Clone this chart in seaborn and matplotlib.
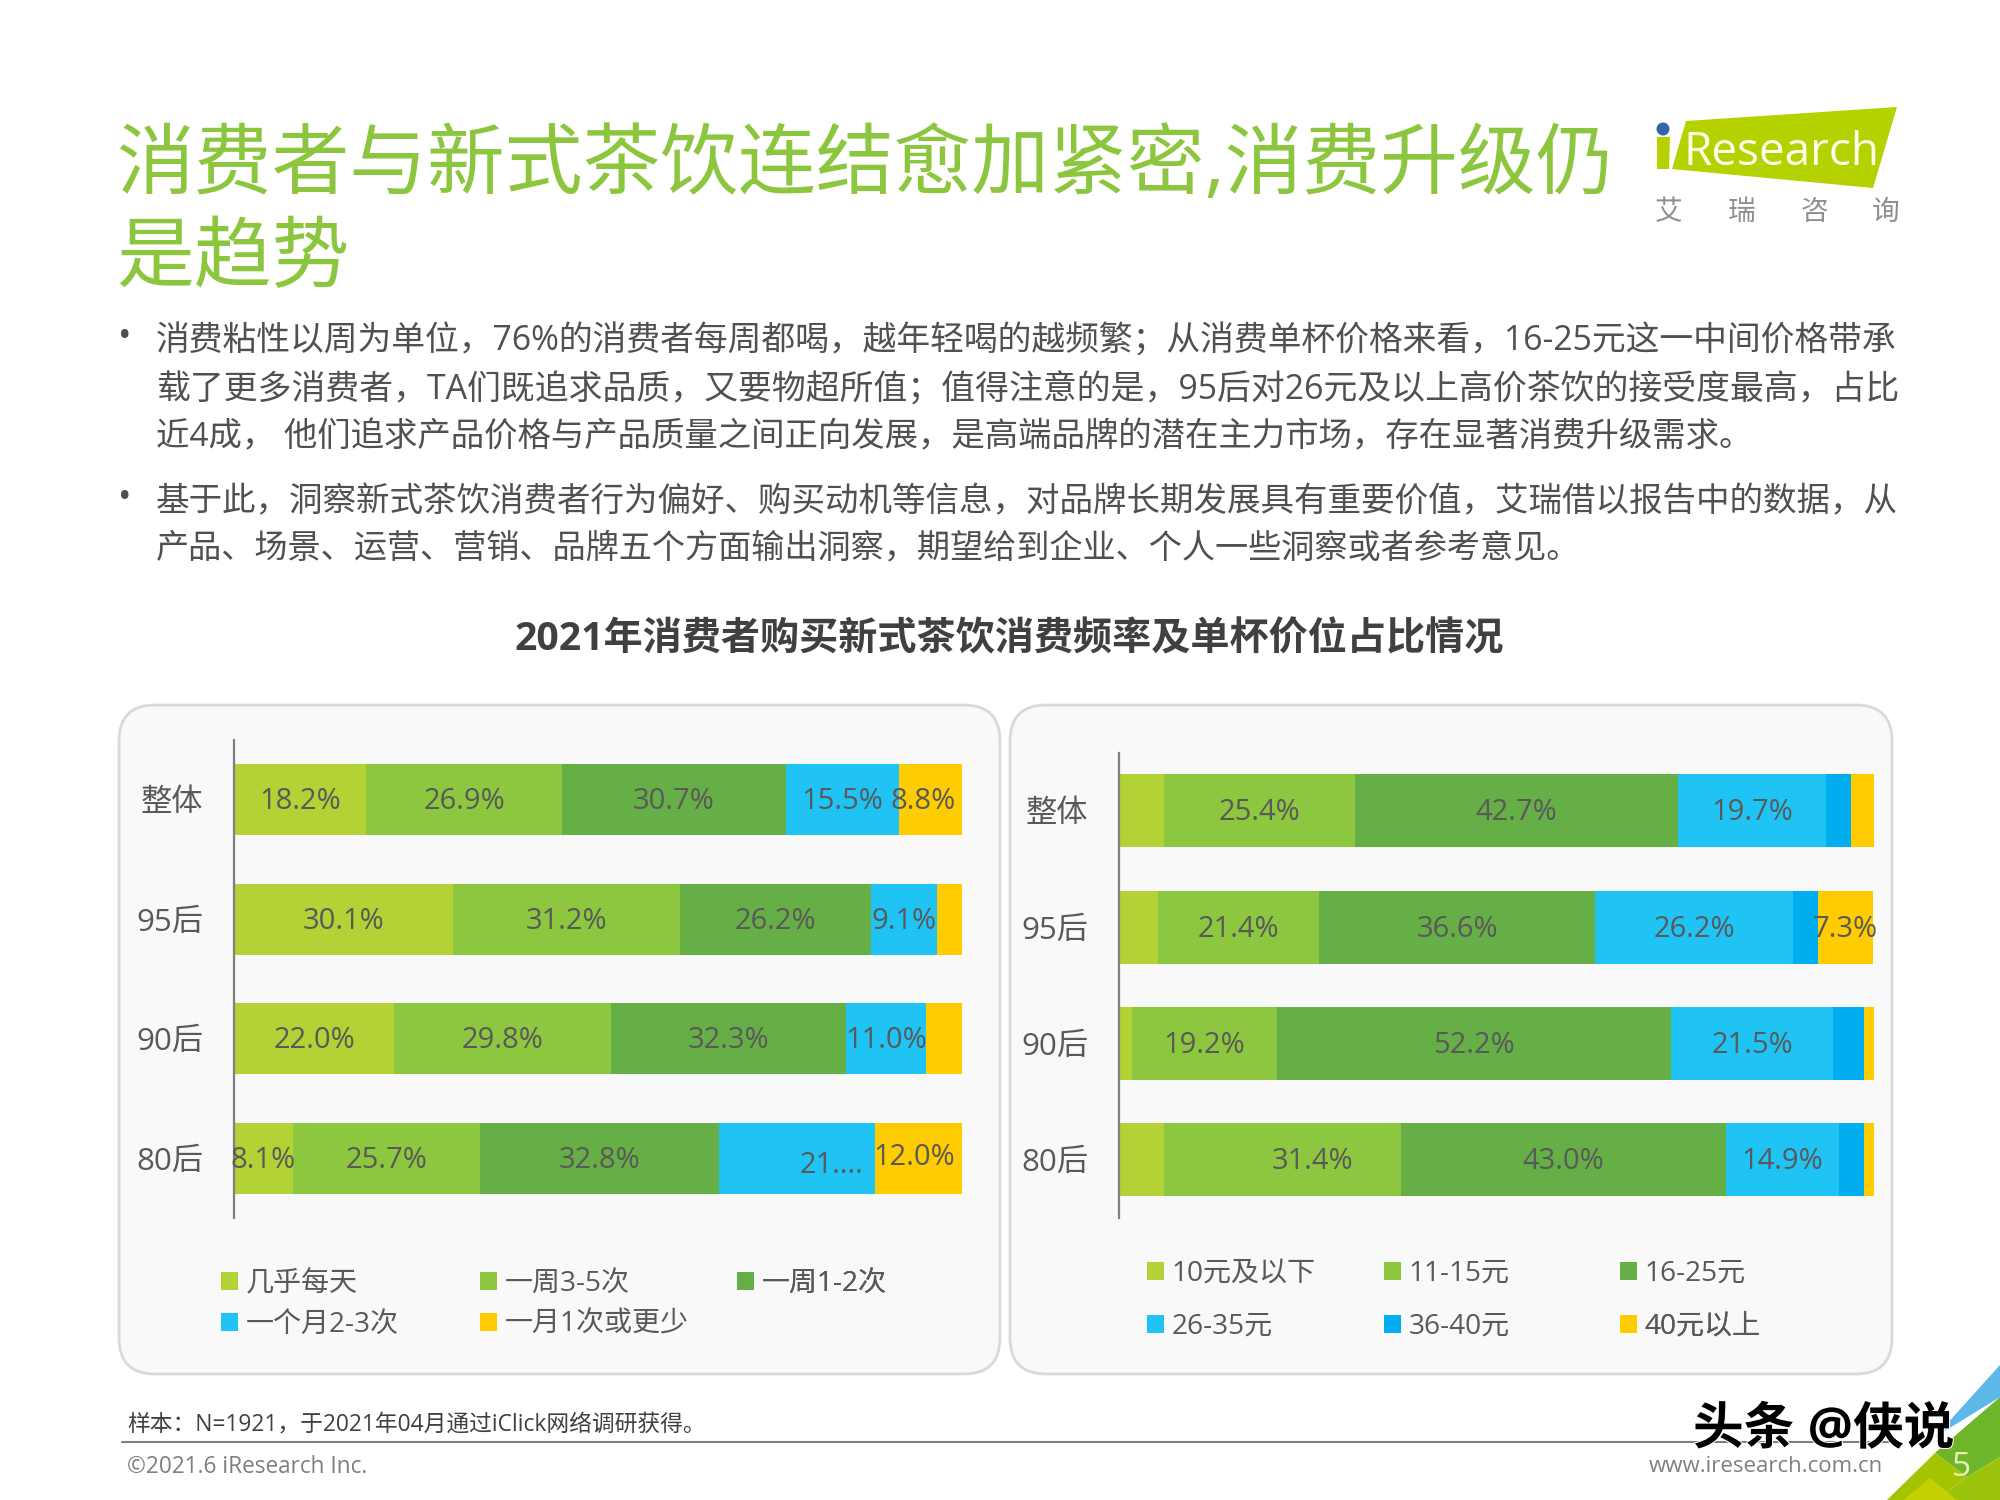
import matplotlib
matplotlib.use("Agg")
import matplotlib.pyplot as plt
import matplotlib.patheffects as pe
from matplotlib.patches import FancyBboxPatch, Polygon, Circle, Patch
import pandas as pd
import seaborn as sns

sns.set_theme(style="white")
FONT = ['Open Sans', 'Noto Sans CJK SC', 'DejaVu Sans']
plt.rcParams['font.family'] = FONT

FULL = str.maketrans({",": "\uff0c", ";": "\uff1b", ":": "\uff1a"})

TITLE_LINES = ["消费者与新式茶饮连结愈加紧密,消费升级仍", "是趋势"]
BODY_LINES = [
    "消费粘性以周为单位,76%的消费者每周都喝,越年轻喝的越频繁;从消费单杯价格来看,16-25元这一中间价格带承",
    "载了更多消费者,TA们既追求品质,又要物超所值;值得注意的是,95后对26元及以上高价茶饮的接受度最高,占比",
    "近4成, 他们追求产品价格与产品质量之间正向发展,是高端品牌的潜在主力市场,存在显著消费升级需求。",
    "基于此,洞察新式茶饮消费者行为偏好、购买动机等信息,对品牌长期发展具有重要价值,艾瑞借以报告中的数据,从",
    "产品、场景、运营、营销、品牌五个方面输出洞察,期望给到企业、个人一些洞察或者参考意见。",
]
CHART_TITLE = "2021年消费者购买新式茶饮消费频率及单杯价位占比情况"
FOOTNOTE = "样本:N=1921,于2021年04月通过iClick网络调研获得。"

groups = ["整体", "95后", "90后", "80后"]

freq_names = ["几乎每天", "一周3-5次", "一周1-2次", "一个月2-3次", "一月1次或更少"]
freq_daily = [18.2, 30.1, 22.0, 8.1]
freq_3_5 = [26.9, 31.2, 29.8, 25.7]
freq_1_2 = [30.7, 26.2, 32.3, 32.8]
freq_month = [15.5, 9.1, 11.0, 21.4]
freq_less = [8.8, 3.4, 4.9, 12.0]
freq_labels = [
    ["18.2%", "30.1%", "22.0%", "8.1%"],
    ["26.9%", "31.2%", "29.8%", "25.7%"],
    ["30.7%", "26.2%", "32.3%", "32.8%"],
    ["15.5%", "9.1%", "11.0%", "21...."],
    ["8.8%", "", "", "12.0%"],
]

price_names = ["10元及以下", "11-15元", "16-25元", "26-35元", "36-40元", "40元以上"]
price_10 = [5.9, 5.1, 1.7, 6.0]
price_15 = [25.4, 21.4, 19.2, 31.4]
price_25 = [42.7, 36.6, 52.2, 43.0]
price_35 = [19.7, 26.2, 21.5, 14.9]
price_40 = [3.3, 3.3, 4.1, 3.4]
price_up = [3.1, 7.3, 1.3, 1.3]
price_labels = [
    ["", "", "", ""],
    ["25.4%", "21.4%", "19.2%", "31.4%"],
    ["42.7%", "36.6%", "52.2%", "43.0%"],
    ["19.7%", "26.2%", "21.5%", "14.9%"],
    ["", "", "", ""],
    ["", "7.3%", "", ""],
]

LIME, GREEN, DGREEN, BLUE, DBLUE, YELLOW = "#B2D235", "#8DC63F", "#66AF46", "#1FC4F4", "#00ADEF", "#FFCC00"
GRAY = "#595959"
W, H = 2000, 1500

fig = plt.figure(figsize=(20, 15), dpi=100, facecolor="white")
bg = fig.add_axes([0, 0, 1, 1], zorder=0)
bg.set_xlim(0, W)
bg.set_ylim(H, 0)
bg.axis("off")

# slide texts
for t, y in zip(TITLE_LINES, [168, 260]):
    bg.text(116, y, t, fontsize=56, color="#8CC63F", va="center", ha="left", family=FONT)
for t, y, fs in zip(BODY_LINES, [342, 390, 438, 502, 550], [24.33, 24.37, 24.05, 24.14, 23.9]):
    bg.text(156, y, t.translate(FULL), fontsize=fs, color="#505050", va="center", ha="left", family=FONT)
for y in [338, 499]:
    bg.text(125, y, "•", fontsize=26, color="#505050", va="center", ha="center", family=FONT)
bg.text(1009, 640, CHART_TITLE, fontsize=28.2, fontweight="bold", color="#404040",
        va="center", ha="center", family=FONT)

# panels
for x0, x1 in [(119, 1000), (1010, 1892)]:
    bg.add_patch(FancyBboxPatch((x0 + 36, 705 + 36), x1 - x0 - 72, 669 - 72,
                                boxstyle="round,pad=36,rounding_size=36",
                                fc="#F9F9F9", ec="#D9D9D9", lw=2))

# logo
bg.add_patch(Polygon([(1686, 121), (1897, 107), (1873, 188), (1672, 169)], closed=True, fc="#B5D100", ec="none"))
bg.add_patch(Polygon([(1657, 137), (1670, 137), (1669, 169), (1657, 169)], closed=True, fc="#B5D100", ec="none"))
bg.add_patch(Circle((1663, 129), 6.5, fc="#3565A8", ec="none"))
bg.text(1684, 153, "Research", fontsize=33, color="#FCFDE8", va="center", ha="left", family=FONT)
for c, x in zip("艾瑞咨询", [1669, 1742, 1814, 1886]):
    bg.text(x, 213, c, fontsize=20, color="#8F8F8F", va="center", ha="center", family=FONT)

# corner decoration
bg.add_patch(Polygon([(2000, 1365), (1935, 1437), (2000, 1397)], closed=True, fc="#5BB8E8", ec="none"))
bg.add_patch(Polygon([(2000, 1397), (1935, 1453), (1967, 1477), (2000, 1457)], closed=True, fc="#6EB52A", ec="none"))
bg.add_patch(Polygon([(1887, 1500), (1935, 1453), (1967, 1477), (1935, 1500)], closed=True, fc="#A3C400", ec="none"))
bg.add_patch(Polygon([(1967, 1477), (2000, 1457), (2000, 1500), (1935, 1500)], closed=True, fc="#9CC40A", ec="none"))
bg.add_patch(Polygon([(1903, 1500), (1930, 1478), (1957, 1500)], closed=True, fc="#C4D000", ec="none"))

# footer
bg.plot([122, 1890], [1442, 1442], color="#7F7F7F", lw=1.5)
bg.text(127, 1425, FOOTNOTE.translate(FULL), fontsize=16.4, color="#404040", va="center", ha="left", family=FONT)
bg.text(127, 1467, "©2021.6 iResearch Inc.", fontsize=16.3, color="#7F7F7F", va="center", ha="left", family=FONT)
bg.text(1883, 1467, "www.iresearch.com.cn", fontsize=16, color="#7F7F7F", va="center", ha="right", family=FONT)
bg.text(1961, 1468, "5", fontsize=24, color="#E6F2B0", va="center", ha="center", family=FONT)
bg.text(1693, 1431, "头条 @侠说", fontsize=36.5, fontweight="bold", color="black", va="center", ha="left",
        family=FONT, zorder=10, path_effects=[pe.withStroke(linewidth=1.5, foreground="white")])


def axes_px(x0, x1, y0, y1):
    return fig.add_axes([x0 / W, 1 - y1 / H, (x1 - x0) / W, (y1 - y0) / H], zorder=2, facecolor="none")


def stacked(ax, series, names, colors, labels, width, offsets):
    df = pd.DataFrame(dict(zip(names, series)))
    cum = df.cumsum(axis=1)
    cum["group"] = groups
    for name, c in reversed(list(zip(names, colors))):
        sns.barplot(data=cum, y="group", x=name, order=groups, color=c, saturation=1,
                    width=width, linewidth=0, ax=ax, legend=False)
    ax.set_xlim(0, 100)
    ax.set_ylim(3.5, -0.5)
    ax.set_xlabel("")
    ax.set_ylabel("")
    ax.set_xticks([])
    for s in ["top", "right", "bottom"]:
        ax.spines[s].set_visible(False)
    ax.spines["left"].set_color("#7F7F7F")
    ax.spines["left"].set_linewidth(1.6)
    ax.tick_params(axis="y", length=0, pad=22)
    for t in ax.get_yticklabels():
        t.set_fontsize(22.5)
        t.set_color(GRAY)
        t.set_family(FONT)
    for j, name in enumerate(names):
        for i in range(len(groups)):
            if not labels[j][i]:
                continue
            start = cum[names[j - 1]].iloc[i] if j else 0
            dx, dy = offsets.get((j, i), (0, 0))
            ax.annotate(labels[j][i], (start + df[name].iloc[i] / 2, i), xytext=(dx, -dy - 2),
                        textcoords="offset pixels", ha="center", va="center",
                        fontsize=21, color=GRAY, family=FONT, annotation_clip=False)


def legends(ax, names, colors, xs, ys):
    for k, x in enumerate(xs):
        for r, y in enumerate(ys):
            i = k + len(xs) * r
            if i >= len(names):
                continue
            lg = ax.legend(handles=[Patch(fc=colors[i], ec="none", label=names[i])],
                           loc="center left", bbox_to_anchor=(x / W, 1 - y / H),
                           bbox_transform=fig.transFigure, frameon=False,
                           prop={"family": FONT, "size": 20.2}, labelcolor=GRAY,
                           handlelength=0.6, handleheight=0.58, handletextpad=0.28,
                           borderpad=0, borderaxespad=0)
            ax.add_artist(lg)


ax1 = axes_px(234, 962, 740, 1218)
cols1 = [LIME, GREEN, DGREEN, BLUE, YELLOW]
stacked(ax1, [freq_daily, freq_3_5, freq_1_2, freq_month, freq_less], freq_names, cols1, freq_labels, 0.595,
        {(3, 3): (35, 5), (4, 3): (-4, -3), (4, 0): (-8, 0)})
legends(ax1, freq_names, cols1, [221, 480, 737], [1284, 1325])

ax2 = axes_px(1119, 1874, 752.5, 1218)
cols2 = [LIME, GREEN, DGREEN, BLUE, DBLUE, YELLOW]
stacked(ax2, [price_10, price_15, price_25, price_35, price_40, price_up], price_names, cols2, price_labels, 0.627,
        {(1, 3): (30, 0)})
legends(ax2, price_names, cols2, [1147, 1384, 1620], [1274, 1327])

fig.savefig("out.png", dpi=100, facecolor="white")
